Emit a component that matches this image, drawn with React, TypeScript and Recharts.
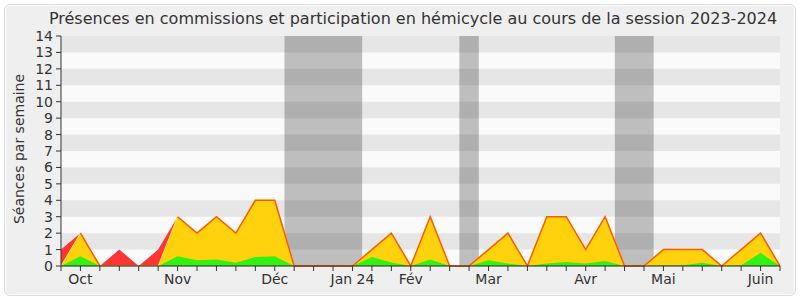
import React from 'react';
import { ComposedChart, Area, Line, XAxis, YAxis, ReferenceArea } from 'recharts';

// week index 0 = first week of October 2023 ... 37 = last week of June 2024
const weekIndex: number[] = [
  0, 1, 2, 3, 4, 5, 6, 7, 8, 9, 10, 11, 12, 13, 14, 15, 16, 17, 18,
  19, 20, 21, 22, 23, 24, 25, 26, 27, 28, 29, 30, 31, 32, 33, 34, 35, 36, 37,
];
const totalPresence: number[] = [
  1, 2, 0, 1, 0, 1, 3, 2, 3, 2, 4, 4, 0, 0, 0, 0, 1, 2, 0,
  3, 0, 0, 1, 2, 0, 3, 3, 1, 3, 0, 0, 1, 1, 1, 0, 1, 2, 0,
];
const commissionPresence: number[] = [
  0, 2, 0, 0, 0, 0, 3, 2, 3, 2, 4, 4, 0, 0, 0, 0, 1, 2, 0,
  3, 0, 0, 1, 2, 0, 3, 3, 1, 3, 0, 0, 1, 1, 1, 0, 1, 2, 0,
];
const hemicycleParticipation: number[] = [
  0, 0.6, 0, 0, 0, 0, 0.6, 0.35, 0.4, 0.2, 0.55, 0.6, 0, 0, 0, 0, 0.55, 0.22, 0,
  0.4, 0, 0, 0.35, 0.15, 0, 0.15, 0.25, 0.15, 0.3, 0, 0, 0.05, 0.05, 0.2, 0, 0.05, 0.8, 0,
];
const monthTickWeeks: number[] = [1, 6, 11, 15, 18, 22, 27, 31, 36];
const monthLabels: string[] = ['Oct', 'Nov', 'Déc', 'Jan 24', 'Fév', 'Mar', 'Avr', 'Mai', 'Juin'];
const vacationStart: number[] = [12, 21, 29];
const vacationEnd: number[] = [15, 21, 30];
const yTicks: number[] = [0, 1, 2, 3, 4, 5, 6, 7, 8, 9, 10, 11, 12, 13, 14];
const darkStripeStarts: number[] = [1, 3, 5, 7, 9, 11, 13];

const data = weekIndex.map((w, i) => ({
  w,
  total: totalPresence[i],
  commission: commissionPresence[i],
  hemicycle: hemicycleParticipation[i],
  edge: commissionPresence[i] === totalPresence[i] ? commissionPresence[i] : null,
}));

const labelFor = (v: number) => {
  const k = monthTickWeeks.indexOf(v);
  return k >= 0 ? monthLabels[k] : '';
};

const FONT = '"DejaVu Sans", Verdana, sans-serif';

export default function App() {
  return (
    <div style={{ position: 'absolute', left: 0, top: 0, width: 800, height: 300, background: '#ffffff', fontFamily: FONT }}>
      <div
        style={{
          position: 'absolute', left: 4, top: 4, width: 792, height: 292, boxSizing: 'border-box',
          border: '1px solid #dcdcdc', borderRadius: 6, background: '#efefef', boxShadow: 'inset 0 0 0 1px #fbfbfb',
        }}
      />
      <div
        style={{
          position: 'absolute', left: 0, top: 7, width: 826, textAlign: 'center', fontSize: 16,
          color: '#333', whiteSpace: 'nowrap', lineHeight: '24px',
        }}
      >
        Présences en commissions et participation en hémicycle au cours de la session 2023-2024
      </div>
      <div
        style={{
          position: 'absolute', left: 19, top: 149, width: 0, height: 0, overflow: 'visible',
        }}
      >
        <div
          style={{
            position: 'absolute', left: -100, top: -10, width: 200, height: 20, lineHeight: '20px',
            textAlign: 'center', fontSize: 14, color: '#333', transform: 'rotate(-90deg)', whiteSpace: 'nowrap',
          }}
        >
          Séances par semaine
        </div>
      </div>
      <div style={{ position: 'absolute', left: 0, top: 0 }}>
        <ComposedChart width={800} height={300} data={data} margin={{ top: 36, right: 20, bottom: 4, left: 0 }}>
          <XAxis
            xAxisId={0}
            dataKey="w"
            type="number"
            domain={[0, 37]}
            ticks={weekIndex}
            interval={0}
            tickFormatter={labelFor}
            height={30}
            tickSize={5}
            tickMargin={3}
            axisLine={{ stroke: '#222' }}
            tickLine={{ stroke: '#333' }}
            tick={{ fill: '#333', fontSize: 14, fontFamily: FONT }}
          />
          <XAxis
            xAxisId="top"
            dataKey="w"
            type="number"
            orientation="top"
            domain={[0, 37]}
            ticks={weekIndex}
            interval={0}
            height={0}
            tick={false}
            tickSize={2}
            axisLine={false}
            tickLine={{ stroke: '#666' }}
          />
          <YAxis
            type="number"
            domain={[0, 14]}
            ticks={yTicks}
            interval={0}
            width={61}
            tickSize={5}
            tickMargin={3}
            axisLine={{ stroke: '#333' }}
            tickLine={{ stroke: '#333' }}
            tick={{ fill: '#333', fontSize: 14, fontFamily: FONT }}
          />
          <ReferenceArea y1={0} y2={14} fill="#fafafa" fillOpacity={1} stroke="none" />
          {darkStripeStarts.map((s) => (
            <ReferenceArea key={'s' + s} y1={s} y2={s + 1} fill="#e6e6e6" fillOpacity={1} stroke="none" />
          ))}
          {vacationStart.map((s, k) => (
            <ReferenceArea
              key={'v' + k}
              x1={s - 0.5}
              x2={vacationEnd[k] + 0.5}
              y1={0}
              y2={14}
              fill="#000"
              fillOpacity={0.24}
              stroke="none"
            />
          ))}
          <Area
            type="linear"
            dataKey="total"
            fill="#ff3535"
            fillOpacity={1}
            stroke="none"
            isAnimationActive={false}
            dot={false}
            activeDot={false}
          />
          <Area
            type="linear"
            dataKey="commission"
            fill="#ffd20d"
            fillOpacity={1}
            stroke="#ffe84a"
            strokeWidth={1}
            isAnimationActive={false}
            dot={false}
            activeDot={false}
          />
          <Area
            type="linear"
            dataKey="hemicycle"
            fill="#33f015"
            fillOpacity={1}
            stroke="none"
            isAnimationActive={false}
            dot={false}
            activeDot={false}
          />
          <Line
            type="linear"
            dataKey="edge"
            stroke="#ff5a00"
            strokeWidth={1.5}
            connectNulls={false}
            dot={false}
            activeDot={false}
            isAnimationActive={false}
          />
        </ComposedChart>
      </div>
    </div>
  );
}
